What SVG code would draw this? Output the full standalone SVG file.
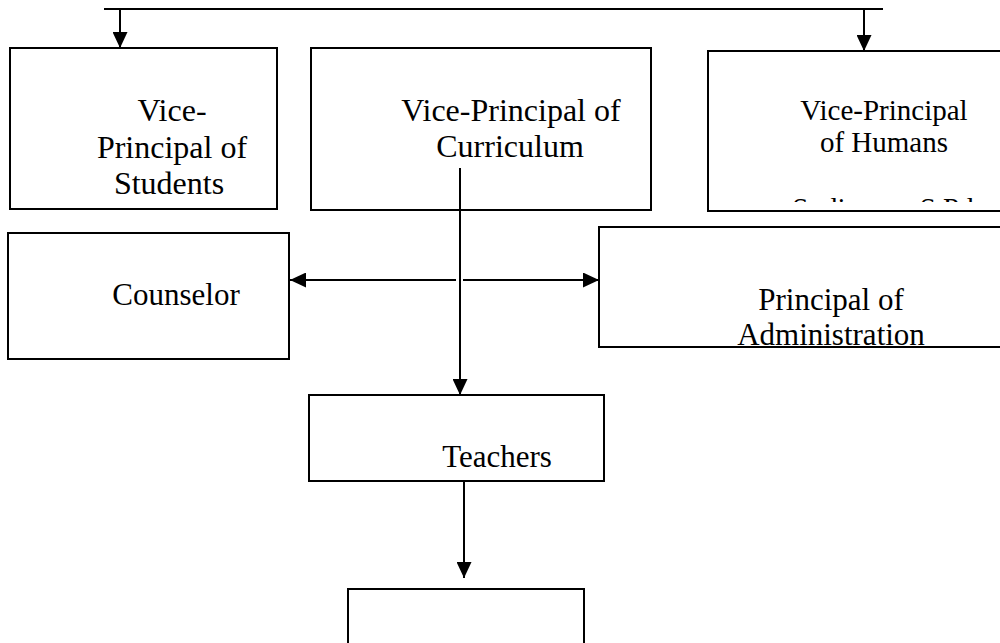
<svg xmlns="http://www.w3.org/2000/svg" width="1000" height="643" viewBox="0 0 1000 643">
  <style>
    .box { fill: #ffffff; stroke: #000000; stroke-width: 2; }
    .lbl { font-family: "Liberation Serif", "Times New Roman", serif; fill: #000000; text-anchor: middle; }
    .line { fill: none; stroke: #000000; stroke-width: 2; }
  </style>
  <defs>
    <marker id="arrow" markerUnits="userSpaceOnUse" markerWidth="16" markerHeight="15" refX="16" refY="7.5" orient="auto">
      <path d="M0,0 L16,7.5 L0,15 Z" fill="#000000"/>
    </marker>
    <clipPath id="humansClip">
      <rect x="708" y="51" width="300" height="151"/>
    </clipPath>
  </defs>
  <rect width="1000" height="643" fill="#ffffff"/>

  <g id="vp-students">
    <rect class="box" x="10" y="48" width="267" height="161"/>
    <text class="lbl" font-size="32" x="172" y="121">Vice-</text>
    <text class="lbl" font-size="32" x="172" y="158">Principal of</text>
    <text class="lbl" font-size="32" x="169" y="194">Students</text>
  </g>

  <g id="vp-curriculum">
    <rect class="box" x="311" y="48" width="340" height="162"/>
    <text class="lbl" font-size="32" x="511" y="121">Vice-Principal of</text>
    <text class="lbl" font-size="32" x="510" y="157">Curriculum</text>
  </g>

  <g id="vp-humans">
    <rect class="box" x="708" y="51" width="310" height="160"/>
    <text class="lbl" font-size="29" x="884" y="120">Vice-Principal</text>
    <text class="lbl" font-size="29" x="884" y="152">of Humans</text>
    <!-- third line runs past the bottom of the text area and is cut off -->
    <text class="lbl" font-size="29" x="883" y="218" clip-path="url(#humansClip)">Sudirman, S.Pd</text>
  </g>

  <g id="counselor">
    <rect class="box" x="8" y="233" width="281" height="126"/>
    <text class="lbl" font-size="31" x="176" y="305">Counselor</text>
  </g>

  <g id="principal-admin">
    <rect class="box" x="599" y="227" width="420" height="120"/>
    <text class="lbl" font-size="31" x="831" y="310">Principal of</text>
    <text class="lbl" font-size="31" x="831" y="345">Administration</text>
  </g>

  <g id="teachers">
    <rect class="box" x="309" y="395" width="295" height="86"/>
    <text class="lbl" font-size="31" x="497" y="467">Teachers</text>
  </g>

  <g id="bottom-node">
    <rect class="box" x="348" y="589" width="236" height="70"/>
  </g>

  <g id="connectors">
    <path class="line" d="M104,9 H883"/>
    <path class="line" d="M120,9 V48" marker-end="url(#arrow)"/>
    <path class="line" d="M864,9 V51" marker-end="url(#arrow)"/>
    <path class="line" d="M460,168 V395" marker-end="url(#arrow)"/>
    <path class="line" d="M456,280 H290" marker-end="url(#arrow)"/>
    <path class="line" d="M463,280 H599" marker-end="url(#arrow)"/>
    <path class="line" d="M464,481 V578" marker-end="url(#arrow)"/>
  </g>
</svg>
